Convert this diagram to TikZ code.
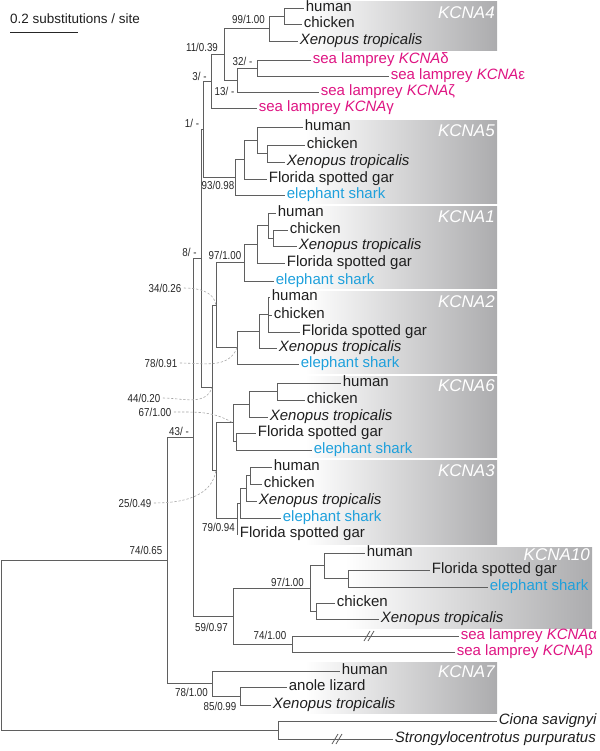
\documentclass[tikz,border=0pt]{standalone}
\usepackage{fontspec}
\setmainfont{Liberation Sans}
\newfontfamily\supfont[FakeStretch=0.85]{Liberation Sans}
\usetikzlibrary{calc}
\definecolor{treegray}{RGB}{95,95,95}
\definecolor{boxgray}{RGB}{172,172,174}
\definecolor{lampreypink}{RGB}{222,20,130}
\definecolor{sharkblue}{RGB}{30,160,220}
\definecolor{leadergray}{RGB}{165,165,165}
\tikzstyle{branch} = [draw=treegray, line width=0.7pt]
\tikzstyle{leaf} = [anchor=west, inner xsep=0.05cm, inner ysep=0pt, text height=0.32cm, text depth=0.09cm, font=\fontsize{12.8}{14}\selectfont, text=black!88]
\tikzstyle{lamprey} = [leaf, text=lampreypink]
\tikzstyle{shark} = [leaf, text=sharkblue]
\tikzstyle{support} = [inner sep=0pt, font=\supfont\fontsize{9.8}{11}\selectfont, text=black!85]
\tikzstyle{genebox} = [left color=white, right color=boxgray, draw=none]
\tikzstyle{gene} = [anchor=east, inner sep=0pt, font=\fontsize{14.5}{16}\selectfont\itshape, text=white]
\tikzstyle{leader} = [draw=leadergray, line width=0.5pt, dash pattern=on 2pt off 1.5pt]
\tikzstyle{brk} = [draw=treegray, line width=0.7pt]

\begin{document}
\begin{tikzpicture}[x=0.03cm, y=-0.03cm]
\useasboundingbox (0,0) rectangle (600,751);

% gene family boxes
\shade[genebox] (305,1) rectangle (497,50);
\shade[genebox] (305,120) rectangle (497,203);
\shade[genebox] (305,206) rectangle (497,288);
\shade[genebox] (305,291) rectangle (497,373);
\shade[genebox] (305,376) rectangle (497,457);
\shade[genebox] (305,460) rectangle (497,544);
\shade[genebox] (345,547) rectangle (592,628);
\shade[genebox] (305,662) rectangle (497,713);
\node[gene] (g4) at (495,13) {KCNA4};
\node[gene] (g5) at (495,131) {KCNA5};
\node[gene] (g1) at (495,217) {KCNA1};
\node[gene] (g2) at (495,302) {KCNA2};
\node[gene] (g6) at (495,386) {KCNA6};
\node[gene] (g3) at (495,471) {KCNA3};
\node[gene] (g10) at (590,555) {KCNA10};
\node[gene] (g7) at (495,672) {KCNA7};

% scale bar
\node[anchor=west, inner sep=0pt, font=\fontsize{11.5}{13}\selectfont, text=black!88] (scaletxt) at (10,19) {0.2 substitutions / site};
\coordinate (sbL) at (10,32);
\coordinate (sbR) at (78,32);
\draw[line width=0.7pt, black!85] (sbL) -- (sbR);

% leaves
\node[leaf] (hum4) at (304,8) {human};
\node[leaf] (chk4) at (302,24) {chicken};
\node[leaf] (xen4) at (298,41) {\textit{Xenopus tropicalis}};
\node[lamprey] (lamd) at (311,60) {sea lamprey \textit{KCNA}δ};
\node[lamprey] (lame) at (389,76) {sea lamprey \textit{KCNA}ε};
\node[lamprey] (lamz) at (319,92) {sea lamprey \textit{KCNA}ζ};
\node[lamprey] (lamg) at (257,108) {sea lamprey \textit{KCNA}γ};

\node[leaf] (hum5) at (303,127) {human};
\node[leaf] (chk5) at (305,145) {chicken};
\node[leaf] (xen5) at (285,162) {\textit{Xenopus tropicalis}};
\node[leaf] (gar5) at (267,179) {Florida spotted gar};
\node[shark] (ele5) at (285,195) {elephant shark};

\node[leaf] (hum1) at (276,213) {human};
\node[leaf] (chk1) at (288,230) {chicken};
\node[leaf] (xen1) at (297,246) {\textit{Xenopus tropicalis}};
\node[leaf] (gar1) at (285,263) {Florida spotted gar};
\node[shark] (ele1) at (274,281) {elephant shark};

\node[leaf] (hum2) at (270,297) {human};
\node[leaf] (chk2) at (272,315) {chicken};
\node[leaf] (gar2) at (300,332) {Florida spotted gar};
\node[leaf] (xen2) at (277,348) {\textit{Xenopus tropicalis}};
\node[shark] (ele2) at (299,364) {elephant shark};

\node[leaf] (hum6) at (341,383) {human};
\node[leaf] (chk6) at (305,400) {chicken};
\node[leaf] (xen6) at (268,417) {\textit{Xenopus tropicalis}};
\node[leaf] (gar6) at (256,433) {Florida spotted gar};
\node[shark] (ele6) at (312,450) {elephant shark};

\node[leaf] (hum3) at (272,467) {human};
\node[leaf] (chk3) at (262,484) {chicken};
\node[leaf] (xen3) at (257,501) {\textit{Xenopus tropicalis}};
\node[shark] (ele3) at (281,518) {elephant shark};
\node[leaf] (gar3) at (238,534) {Florida spotted gar};

\node[leaf] (hum10) at (365,553) {human};
\node[leaf] (gar10) at (430,570) {Florida spotted gar};
\node[shark] (ele10) at (488,587) {elephant shark};
\node[leaf] (chk10) at (335,603) {chicken};
\node[leaf] (xen10) at (379,619) {\textit{Xenopus tropicalis}};
\node[lamprey] (lama) at (459,636) {sea lamprey \textit{KCNA}α};
\node[lamprey] (lamb) at (455,652) {sea lamprey \textit{KCNA}β};

\node[leaf] (hum7) at (340,671) {human};
\node[leaf] (ano7) at (287,687) {anole lizard};
\node[leaf] (xen7) at (271,705) {\textit{Xenopus tropicalis}};
\node[leaf] (cion) at (497,721) {\textit{Ciona savignyi}};
\node[leaf] (stro) at (393,739) {\textit{Strongylocentrotus purpuratus}};

% internal nodes
\coordinate (root) at (1,645);
\coordinate (nEch) at (278,730);
\coordinate (n74) at (167,560);
\coordinate (n43) at (193,437);
\coordinate (n8) at (201,258.4);
\coordinate (n1) at (203,129);
\coordinate (n3) at (211,81);
\coordinate (n11) at (224,54.3);
\coordinate (n99) at (269,28.5);
\coordinate (nHC4) at (284,16);
\coordinate (n13) at (237,80);
\coordinate (n32) at (257,68);
\coordinate (n93) at (235,177.3);
\coordinate (nA5a) at (244,159.6);
\coordinate (nA5b) at (257,140.3);
\coordinate (nA5c) at (267,153.5);
\coordinate (n44) at (212,387.8);
\coordinate (n34) at (216,305);
\coordinate (n97a) at (244,262.6);
\coordinate (nA1a) at (257,244.3);
\coordinate (nA1b) at (268,225.5);
\coordinate (nA1c) at (273,238);
\coordinate (nA2) at (237,347.6);
\coordinate (nA2a) at (259,331.3);
\coordinate (nA2b) at (268,314.5);
\coordinate (n25) at (216,470.6);
\coordinate (n67) at (233,422.8);
\coordinate (nA6a) at (249,404.2);
\coordinate (nA6b) at (277,391.5);
\coordinate (nA6d) at (236,441.5);
\coordinate (n79) at (237,518.5);
\coordinate (nA3a) at (240,503);
\coordinate (nA3b) at (246,488.3);
\coordinate (nA3c) at (250,475.5);
\coordinate (n59) at (233,616.3);
\coordinate (n97b) at (310,588.5);
\coordinate (nA10a) at (324,565.8);
\coordinate (nA10b) at (348,578.5);
\coordinate (nA10c) at (316,611);
\coordinate (nLam) at (292,644);
\coordinate (n78) at (212,683.5);
\coordinate (nA7) at (240,696);

% branches
\draw[branch] (root) |- (n74) (root) |- (nEch);
\draw[branch] (nEch) |- (cion.west) (nEch) |- (stro.west);
\draw[branch] (n74) |- (n43) (n74) |- (n78);
\draw[branch] (n43) |- (n8) (n43) |- (n59);
\draw[branch] (n8) |- (n1) (n8) |- (n44);
\draw[branch] (n1) |- (n3) (n1) |- (n93);
\draw[branch] (n3) |- (n11) (n3) |- (lamg.west);
\draw[branch] (n11) |- (n99) (n11) |- (n13);
\draw[branch] (n99) |- (nHC4) (n99) |- (xen4.west);
\draw[branch] (nHC4) |- (hum4.west) (nHC4) |- (chk4.west);
\draw[branch] (n13) |- (n32) (n13) |- (lamz.west);
\draw[branch] (n32) |- (lamd.west) (n32) |- (lame.west);
\draw[branch] (n93) |- (nA5a) (n93) |- (ele5.west);
\draw[branch] (nA5a) |- (nA5b) (nA5a) |- (gar5.west);
\draw[branch] (nA5b) |- (hum5.west) (nA5b) |- (nA5c);
\draw[branch] (nA5c) |- (chk5.west) (nA5c) |- (xen5.west);
\draw[branch] (n44) |- (n34) (n44) |- (n25);
\draw[branch] (n34) |- (n97a) (n34) |- (nA2);
\draw[branch] (n97a) |- (nA1a) (n97a) |- (ele1.west);
\draw[branch] (nA1a) |- (nA1b) (nA1a) |- (gar1.west);
\draw[branch] (nA1b) |- (hum1.west) (nA1b) |- (nA1c);
\draw[branch] (nA1c) |- (chk1.west) (nA1c) |- (xen1.west);
\draw[branch] (nA2) |- (nA2a) (nA2) |- (ele2.west);
\draw[branch] (nA2a) |- (nA2b) (nA2a) |- (xen2.west);
\draw[branch] (nA2b) |- (hum2.west) (nA2b) |- (chk2.west) (nA2b) |- (gar2.west);
\draw[branch] (n25) |- (n67) (n25) |- (n79);
\draw[branch] (n67) |- (nA6a) (n67) |- (nA6d);
\draw[branch] (nA6a) |- (nA6b) (nA6a) |- (xen6.west);
\draw[branch] (nA6b) |- (hum6.west) (nA6b) |- (chk6.west);
\draw[branch] (nA6d) |- (gar6.west) (nA6d) |- (ele6.west);
\draw[branch] (n79) |- (nA3a) (n79) |- (gar3.west);
\draw[branch] (nA3a) |- (nA3b) (nA3a) |- (ele3.west);
\draw[branch] (nA3b) |- (nA3c) (nA3b) |- (xen3.west);
\draw[branch] (nA3c) |- (hum3.west) (nA3c) |- (chk3.west);
\draw[branch] (n59) |- (n97b) (n59) |- (nLam);
\draw[branch] (n97b) |- (nA10a) (n97b) |- (nA10c);
\draw[branch] (nA10a) |- (hum10.west) (nA10a) |- (nA10b);
\draw[branch] (nA10b) |- (gar10.west) (nA10b) |- (ele10.west);
\draw[branch] (nA10c) |- (chk10.west) (nA10c) |- (xen10.west);
\draw[branch] (nLam) |- (lama.west) (nLam) |- (lamb.west);
\draw[branch] (n78) |- (hum7.west) (n78) |- (nA7);
\draw[branch] (nA7) |- (ano7.west) (nA7) |- (xen7.west);

% long branch breaks
\coordinate (brkA) at (369,636);
\coordinate (brkS) at (337,739);
\draw[brk] ($(brkA)+(-5,5)$) -- ++(6,-10) ($(brkA)+(-1,5)$) -- ++(6,-10);
\draw[brk] ($(brkS)+(-5,5)$) -- ++(6,-10) ($(brkS)+(-1,5)$) -- ++(6,-10);

% support values
\node[support] (s99) at (248.5,19) {99/1.00};
\node[support] (s11) at (202,47) {11/0.39};
\node[support] (s32) at (242.5,61) {32/ -};
\node[support] (s13) at (224.5,91) {13/ -};
\node[support] (s3) at (199.5,76) {3/ -};
\node[support] (s1) at (192,123) {1/ -};
\node[support] (s93) at (218,185) {93/0.98};
\node[support] (s8) at (189.5,252) {8/ -};
\node[support] (s97a) at (225,255) {97/1.00};
\node[support] (s34) at (165,288) {34/0.26};
\node[support] (s78a) at (161,363) {78/0.91};
\node[support] (s44) at (144,398) {44/0.20};
\node[support] (s67) at (155,412) {67/1.00};
\node[support] (s43) at (179,431) {43/ -};
\node[support] (s25) at (135,503) {25/0.49};
\node[support] (s79) at (218.5,527) {79/0.94};
\node[support] (s74a) at (146,550) {74/0.65};
\node[support] (s97b) at (287.5,582) {97/1.00};
\node[support] (s59) at (211.5,627) {59/0.97};
\node[support] (s74b) at (270,635) {74/1.00};
\node[support] (s78b) at (191.5,692) {78/1.00};
\node[support] (s85) at (220,706) {85/0.99};

% dashed leaders
\draw[leader] ([xshift=2]s34.east) to[out=0, in=100] (n34);
\draw[leader] ([xshift=2]s78a.east) to[out=0, in=-110] (nA2);
\draw[leader] ([xshift=2]s44.east) to[out=0, in=-110] (n44);
\draw[leader] ([xshift=2]s67.east) to[out=0, in=150] (n67);
\draw[leader] ([xshift=2]s25.east) to[out=0, in=-100] (n25);
\end{tikzpicture}
\end{document}
